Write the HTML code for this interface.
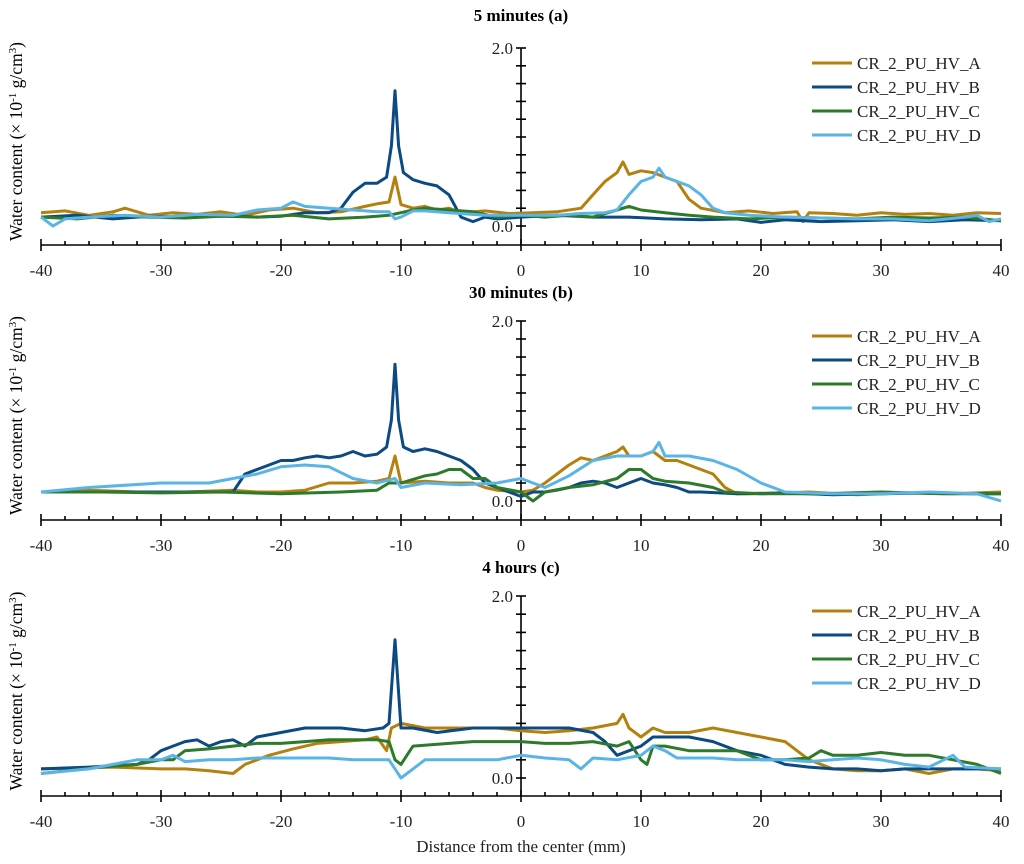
<!DOCTYPE html>
<html><head><meta charset="utf-8"><style>body{margin:0;background:#fff}svg{display:block;font-family:"Liberation Serif",serif}</style></head>
<body>
<svg id="chart" width="1024" height="864" viewBox="0 0 1024 864"></svg>
<script>
// ---- data (values in ×10^-1 g/cm³; x in mm) ----
const seriesNames = ["CR_2_PU_HV_A","CR_2_PU_HV_B","CR_2_PU_HV_C","CR_2_PU_HV_D"];
const panelTitles = ["5 minutes (a)","30 minutes (b)","4 hours (c)"];
const xTickLabels = [-40,-30,-20,-10,0,10,20,30,40];
const yTickLabels = ["0.0","2.0"];

const aAx=[-40,-38,-36,-34,-33,-31,-29,-27,-25,-23,-21,-19,-17,-15,-13,-12,-11,-10.5,-10,-9,-8,-7,-6,-5,-3,-1,1,3,5,6,7,8,8.5,9,10,11,12,13,14,15,17,19,21,23,23.5,24,26,28,30,32,34,36,38,40];
const aAy=[0.15,0.17,0.12,0.16,0.2,0.12,0.15,0.13,0.16,0.12,0.18,0.2,0.15,0.16,0.22,0.25,0.27,0.55,0.24,0.2,0.22,0.18,0.2,0.15,0.17,0.14,0.15,0.16,0.2,0.35,0.5,0.6,0.72,0.58,0.62,0.6,0.55,0.5,0.3,0.2,0.15,0.17,0.14,0.16,0.05,0.15,0.14,0.12,0.15,0.13,0.14,0.12,0.15,0.14];
const aBx=[-40,-37,-34,-31,-28,-25,-22,-20,-18,-16,-15,-14,-13,-12,-11.2,-10.8,-10.5,-10.2,-9.8,-9,-8,-7,-6,-5,-4,-3,-2,0,3,6,9,12,15,18,20,22,25,28,31,34,37,40];
const aBy=[0.1,0.12,0.08,0.11,0.1,0.12,0.1,0.11,0.15,0.15,0.2,0.38,0.48,0.48,0.55,0.9,1.52,0.9,0.6,0.52,0.48,0.45,0.35,0.1,0.05,0.1,0.08,0.1,0.12,0.1,0.1,0.08,0.07,0.08,0.04,0.07,0.05,0.06,0.07,0.05,0.07,0.06];
const aCx=[-40,-37,-34,-31,-28,-25,-22,-19,-16,-13,-11,-9,-8,-6,-4,-2,0,2,4,6,8,9,10,12,14,16,19,22,25,28,31,34,37,40];
const aCy=[0.1,0.08,0.12,0.1,0.09,0.11,0.1,0.12,0.08,0.1,0.12,0.18,0.2,0.18,0.16,0.1,0.12,0.1,0.12,0.1,0.18,0.22,0.18,0.15,0.12,0.1,0.08,0.1,0.09,0.08,0.1,0.09,0.1,0.06];
const aDx=[-40,-39,-38,-36,-33,-30,-27,-24,-22,-20,-19,-18,-16,-14,-12,-11,-10.5,-10,-9,-8,-6,-3,0,3,5,7,8,9,10,11,11.5,12,13,14,15,16,17,19,22,25,28,31,34,37,38,39,40];
const aDy=[0.1,0.0,0.08,0.1,0.12,0.1,0.13,0.12,0.18,0.2,0.27,0.22,0.2,0.18,0.16,0.16,0.08,0.1,0.17,0.17,0.15,0.12,0.12,0.12,0.14,0.15,0.18,0.35,0.5,0.55,0.65,0.55,0.5,0.45,0.35,0.2,0.15,0.12,0.1,0.09,0.08,0.08,0.06,0.1,0.12,0.05,0.08];

const bAx=[-40,-36,-32,-28,-24,-22,-20,-18,-16,-14,-12,-11,-10.5,-10,-8,-6,-4,-3,-2,0,1,2,3,4,5,6,7,8,8.5,9,10,11,12,13,14,15,16,17,18,20,24,28,32,36,40];
const bAy=[0.1,0.12,0.1,0.1,0.12,0.1,0.1,0.12,0.2,0.2,0.22,0.25,0.5,0.2,0.22,0.2,0.2,0.15,0.12,0.1,0.12,0.2,0.3,0.4,0.48,0.45,0.5,0.55,0.6,0.5,0.5,0.55,0.45,0.45,0.4,0.35,0.3,0.15,0.08,0.08,0.1,0.07,0.09,0.08,0.1];
const bBx=[-40,-34,-28,-24,-23,-22,-21,-20,-19,-18,-17,-16,-15,-14,-13,-12,-11.2,-10.8,-10.5,-10.2,-9.8,-9,-8,-7,-6,-5,-4,-3,-2,-1,0,1,2,3,4,5,6,7,8,9,10,11,12,13,14,15,18,22,26,30,34,38,40];
const bBy=[0.1,0.1,0.1,0.1,0.3,0.35,0.4,0.45,0.45,0.48,0.5,0.48,0.5,0.55,0.5,0.52,0.6,0.9,1.52,0.9,0.6,0.55,0.58,0.55,0.5,0.45,0.35,0.2,0.15,0.1,0.05,0.1,0.1,0.12,0.15,0.2,0.22,0.2,0.15,0.2,0.25,0.2,0.18,0.15,0.1,0.1,0.08,0.09,0.07,0.08,0.09,0.08,0.08];
const bCx=[-40,-35,-30,-25,-20,-15,-12,-11,-10,-8,-7,-6,-5,-4,-3,-2,0,1,2,4,6,8,9,10,11,12,14,16,17,20,25,30,35,40];
const bCy=[0.1,0.1,0.09,0.1,0.08,0.1,0.12,0.2,0.2,0.28,0.3,0.35,0.35,0.25,0.25,0.15,0.1,0.0,0.1,0.15,0.18,0.25,0.35,0.35,0.25,0.22,0.2,0.15,0.1,0.08,0.08,0.1,0.08,0.08];
const bDx=[-40,-36,-30,-26,-24,-22,-20,-18,-16,-14,-12,-10.5,-10,-8,-5,-2,0,2,4,6,8,10,11,11.5,12,14,16,18,20,22,26,30,34,38,40];
const bDy=[0.1,0.15,0.2,0.2,0.25,0.3,0.38,0.4,0.38,0.25,0.2,0.25,0.15,0.2,0.18,0.2,0.25,0.15,0.28,0.45,0.5,0.5,0.55,0.65,0.5,0.5,0.45,0.35,0.2,0.1,0.08,0.08,0.1,0.08,0.0];

const cAx=[-40,-34,-30,-28,-26,-24,-23,-21,-19,-17,-15,-13,-12,-11.2,-10.8,-10,-8,-6,-4,-2,0,2,4,6,8,8.5,9,10,11,12,14,16,18,20,22,24,26,28,30,32,34,36,38,40];
const cAy=[0.1,0.12,0.1,0.1,0.08,0.05,0.15,0.25,0.32,0.38,0.4,0.42,0.45,0.3,0.55,0.6,0.55,0.55,0.55,0.55,0.52,0.5,0.52,0.55,0.6,0.7,0.55,0.45,0.55,0.5,0.5,0.55,0.5,0.45,0.4,0.2,0.1,0.08,0.08,0.1,0.05,0.1,0.1,0.08];
const cBx=[-40,-36,-32,-31,-30,-29,-28,-27,-26,-25,-24,-23,-22,-20,-18,-15,-13,-11.5,-11,-10.5,-10,-9,-7,-4,0,2,4,6,7,8,9,10,11,12,14,16,18,20,22,24,26,28,30,32,34,36,38,40];
const cBy=[0.1,0.12,0.15,0.2,0.3,0.35,0.4,0.42,0.35,0.4,0.42,0.35,0.45,0.5,0.55,0.55,0.52,0.55,0.6,1.52,0.55,0.55,0.5,0.55,0.55,0.55,0.55,0.5,0.4,0.25,0.3,0.35,0.45,0.45,0.45,0.4,0.3,0.25,0.15,0.12,0.1,0.1,0.08,0.1,0.1,0.1,0.1,0.1];
const cCx=[-40,-35,-32,-30,-29,-28,-26,-24,-22,-20,-18,-16,-14,-12,-11,-10.5,-10,-9,-6,-4,-2,0,2,4,6,8,9,10,10.5,11,12,14,16,18,20,22,24,25,26,28,30,32,34,36,38,40];
const cCy=[0.05,0.12,0.15,0.2,0.2,0.3,0.32,0.35,0.38,0.38,0.4,0.42,0.42,0.42,0.4,0.2,0.15,0.35,0.38,0.4,0.4,0.4,0.38,0.38,0.4,0.35,0.4,0.2,0.15,0.35,0.35,0.3,0.3,0.3,0.2,0.2,0.22,0.3,0.25,0.25,0.28,0.25,0.25,0.2,0.15,0.05];
const cDx=[-40,-36,-34,-32,-30,-29,-28,-26,-24,-22,-20,-18,-16,-14,-12,-11,-10.5,-10,-9,-8,-6,-4,-2,0,2,4,5,6,8,10,11,12,13,16,18,20,22,24,26,28,30,32,34,36,37,40];
const cDy=[0.05,0.1,0.15,0.2,0.2,0.25,0.18,0.2,0.2,0.22,0.22,0.22,0.22,0.2,0.2,0.2,0.1,0.0,0.1,0.2,0.2,0.2,0.2,0.25,0.22,0.2,0.1,0.22,0.2,0.25,0.35,0.3,0.22,0.22,0.2,0.2,0.2,0.18,0.2,0.22,0.2,0.15,0.12,0.25,0.12,0.1];

const panelSeriesX=[[aAx,aBx,aCx,aDx],[bAx,bBx,bCx,bDx],[cAx,cBx,cCx,cDx]];
const panelSeriesY=[[aAy,aBy,aCy,aDy],[bAy,bBy,bCy,bDy],[cAy,cBy,cCy,cDy]];

// ---- layout ----
const colors=["#b5810e","#0b4a82","#2c7a2a","#5ab4e6"];
const panels=[{y0:226,y2:48,ax:245,title:16},{y0:501,y2:321,ax:520,title:293},{y0:778,y2:596,ax:796,title:568}];
const X0=41,X1=1001;
const sx=v=>X0+(v+40)/80*(X1-X0);
const svg=document.getElementById('chart');
const NS="http://www.w3.org/2000/svg";
function mk(tag,attrs,parent){const e=document.createElementNS(NS,tag);for(const k in attrs)e.setAttribute(k,attrs[k]);(parent||svg).appendChild(e);return e;}

panels.forEach((p,pi)=>{
  const sy=v=>p.y0-(v/2)*(p.y0-p.y2);
  const g=mk('g',{});
  
  
  const t=mk('text',{x:521,y:p.title+5,'text-anchor':'middle','font-size':17,'font-weight':'bold'},g);
  t.textContent=panelTitles[pi];
  
  
  const ya=mk('g',{},g);
  
  
  mk('line',{x1:521,x2:521,y1:p.y2,y2:p.ax,stroke:'#000','stroke-width':1.6},ya);
  for(let i=0;i<=10;i++){const yy=sy(i*0.2);mk('line',{x1:516,x2:526,y1:yy,y2:yy,stroke:'#000','stroke-width':1.6},ya);}
  [0,2].forEach((v,k)=>{const tl=mk('text',{x:513,y:sy(v)+6,'text-anchor':'end','font-size':17,fill:'#222'},ya);tl.textContent=yTickLabels[k];
    
    });
  const xa=mk('g',{},g);
  
  
  mk('line',{x1:X0,x2:X1,y1:p.ax,y2:p.ax,stroke:'#000','stroke-width':1.6},xa);
  for(let v=-40;v<=40;v+=2){const xx=sx(v);const major=v%10===0;
    mk('line',{x1:xx,x2:xx,y1:p.ax-(major?6:4),y2:p.ax+(major?6:0),stroke:'#000','stroke-width':1.6},xa);}
  xTickLabels.forEach(v=>{const tl=mk('text',{x:sx(v),y:p.ax+31,'text-anchor':'middle','font-size':17,fill:'#222'},xa);tl.textContent=v;
    
    });
  const cy=(p.y2+p.ax)/2-5;
  const yt=mk('text',{x:0,y:0,transform:`translate(22,${cy}) rotate(-90)`,'text-anchor':'middle','font-size':17.5},g);
  yt.innerHTML='Water content (× 10<tspan dy="-6" font-size="11">-1</tspan><tspan dy="6"> g/cm</tspan><tspan dy="-6" font-size="11">3</tspan><tspan dy="6">)</tspan>';
  
  
  for(let s=0;s<4;s++){
    const xs=panelSeriesX[pi][s],ys=panelSeriesY[pi][s];
    const d=xs.map((v,i)=>(i?'L':'M')+sx(v).toFixed(1)+' '+sy(ys[i]).toFixed(1)).join(' ');
    const pa=mk('path',{d,fill:'none',stroke:colors[s],'stroke-width':3,'stroke-linejoin':'round'},g);
    
    
  }
  const lg=mk('g',{},g);
  
  
  for(let s=0;s<4;s++){
    const ly=p.y2+15+s*24;
    const le=mk('g',{},lg);
    
    
    mk('line',{x1:812,x2:852,y1:ly,y2:ly,stroke:colors[s],'stroke-width':3},le);
    const lt=mk('text',{x:857,y:ly+6,'font-size':17,fill:'#222'},le);lt.textContent=seriesNames[s];
  }
});
const xt=mk('text',{x:521,y:852,'text-anchor':'middle','font-size':17,fill:'#222'});
xt.textContent='Distance from the center (mm)';


</script>
</body></html>
